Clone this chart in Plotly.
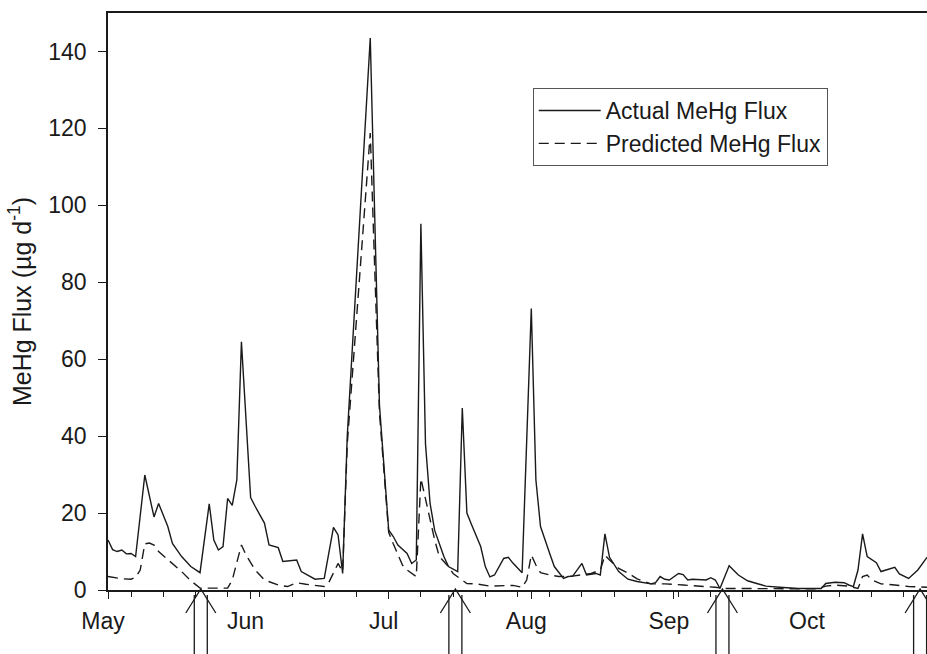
import pandas as pd
import plotly.graph_objects as go

# ---- data ----
start = "2001-05-01"

actual_day = [0, 1, 2, 3, 4, 5, 6, 8, 10, 11, 13, 14, 16, 18, 20, 22, 23, 24, 25, 26,
              27, 28, 29, 31, 32, 34, 35, 37, 38, 41, 42, 45, 47, 49, 50, 51, 52, 57, 59, 61,
              62, 63, 65, 66, 67, 68, 69, 70, 71, 73, 74, 76, 77, 78, 79, 80, 81, 82, 83, 84,
              86, 87, 88, 90, 92, 93, 94, 96, 97, 99, 100, 101, 103, 104, 106, 107, 108, 109, 111, 113,
              115, 118, 119, 120, 121, 122, 124, 125, 126, 127, 129, 130, 131, 132, 133, 135, 137, 139, 141, 143,
              146, 150, 155, 156, 158, 160, 161, 162, 163, 164, 165, 167, 168, 171, 172, 174, 176, 178]
actual_flux = [13.0, 10.5, 10.0, 10.4, 9.4, 9.5, 8.7, 29.9, 19.0, 22.5, 16.5, 12.1, 8.7, 6.1, 4.5, 22.4, 13.0, 10.4, 11.3, 23.8,
               22.0, 28.6, 64.5, 24.0, 21.7, 17.4, 11.7, 11.0, 7.4, 7.8, 4.8, 2.8, 3.0, 16.3, 14.3, 4.3, 40.0, 143.5, 48.0, 15.6,
               13.9, 11.7, 9.5, 6.9, 7.8, 95.2, 38.0, 22.5, 15.5, 8.7, 6.1, 4.8, 47.3, 20.0, 17.0, 13.9, 11.3, 6.1, 3.4, 3.9,
               8.2, 8.5, 7.0, 4.5, 73.2, 28.6, 16.5, 9.5, 6.1, 3.0, 3.5, 3.6, 6.9, 3.9, 4.3, 3.9, 14.6, 8.5, 4.8, 2.8,
               2.2, 1.6, 1.9, 3.5, 2.8, 2.6, 4.3, 4.0, 2.6, 2.8, 2.6, 2.6, 3.2, 2.6, 0.4, 6.3, 3.9, 2.4, 1.7, 1.0,
               0.7, 0.4, 0.4, 1.7, 2.0, 1.9, 1.3, 0.9, 5.2, 14.6, 8.7, 7.1, 4.8, 5.9, 4.2, 3.0, 5.2, 8.5]

pred_day = [0, 3, 5, 6, 7, 8, 9, 10, 11, 12, 13, 16, 18, 20, 26, 27, 29, 30, 32, 34,
            37, 39, 41, 43, 47, 48, 50, 51, 52, 57, 59, 61, 62, 64, 65, 67, 68, 69, 70, 71,
            72, 74, 75, 77, 78, 80, 83, 88, 90, 91, 92, 93, 94, 96, 98, 101, 105, 107, 108, 109,
            111, 113, 115, 118, 121, 125, 129, 132, 134, 154, 156, 158, 161, 163, 164, 165, 166, 168, 171, 174,
            178]
pred_flux = [3.5, 2.9, 2.8, 3.3, 5.2, 12.0, 12.2, 11.7, 10.0, 9.0, 7.8, 4.8, 2.4, 0.5, 0.5, 2.6, 11.7, 9.1, 5.2, 2.6,
             1.3, 0.9, 1.9, 1.5, 0.9, 2.0, 6.9, 4.8, 38.0, 118.8, 46.0, 15.0, 12.0, 6.5, 5.2, 3.5, 29.0, 23.4, 18.2, 13.0,
             8.7, 6.1, 4.3, 2.6, 1.7, 1.6, 1.0, 1.2, 0.7, 2.6, 9.1, 6.5, 4.5, 3.9, 3.5, 3.6, 4.3, 5.2, 9.0, 7.8,
             5.6, 4.4, 2.9, 1.6, 1.6, 1.3, 1.0, 0.7, 0.4, 0.3, 1.0, 1.3, 1.0, 0.4, 3.5, 3.9, 2.6, 1.6, 1.3, 0.9,
             0.7]

arrow_dates = ["2001-05-21 04:00", "2001-07-15 12:00", "2001-09-11 13:00", "2001-10-24 12:00"]

y_ticks = [0, 20, 40, 60, 80, 100, 120, 140]

t0 = pd.Timestamp(start)
actual_dates = [t0 + pd.Timedelta(days=d) for d in actual_day]
pred_dates = [t0 + pd.Timedelta(days=d) for d in pred_day]

INK = "#1a1a1a"
FONT = "Liberation Sans, Arial, sans-serif"

fig = go.Figure()
fig.add_trace(go.Scatter(x=actual_dates, y=actual_flux, mode="lines",
                         name="Actual MeHg Flux",
                         line=dict(color=INK, width=1.4)))
fig.add_trace(go.Scatter(x=pred_dates, y=pred_flux, mode="lines",
                         name="Predicted MeHg Flux",
                         line=dict(color=INK, width=1.4, dash="10px,6px")))

# hollow double-shaft arrows under the time axis
for d in arrow_dates:
    common = dict(type="path", xref="x", yref="paper", xsizemode="pixel",
                  ysizemode="pixel", xanchor=d, yanchor=0,
                  line=dict(color=INK, width=1.3), layer="above")
    fig.add_shape(path="M -15,-23 L 0,1 L 15,-23", **common)
    fig.add_shape(path="M -6.5,-5 L -6.5,-80 M 6.5,-5 L 6.5,-80", **common)

fig.update_layout(
    width=927, height=654,
    margin=dict(l=108, r=0, t=13, b=64),
    paper_bgcolor="white", plot_bgcolor="white",
    font=dict(family=FONT, size=23, color=INK),
    showlegend=True,
    legend=dict(x=0.5186, y=0.870, xanchor="left", yanchor="top",
                bordercolor="#555555", borderwidth=1, bgcolor="white",
                font=dict(size=23), itemwidth=62, tracegroupgap=0),
    xaxis=dict(type="date", range=["2001-05-01", "2001-10-26"],
               tick0="2001-05-01", dtick="M1", tickformat="%b",
               ticks="outside", ticklen=7, tickwidth=1.3, tickcolor=INK,
               ticklabelshift=-5, ticklabelstandoff=3,
               showline=True, linecolor=INK, linewidth=1.5, mirror=True,
               showgrid=False, zeroline=False,
               minor=dict(ticks="outside", ticklen=5, tickwidth=1.2, tickcolor=INK,
                          tick0="2001-05-06", dtick=7 * 24 * 3600 * 1000, showgrid=False)),
    yaxis=dict(range=[0, 150], tickmode="array", tickvals=y_ticks,
               ticks="outside", ticklen=8, tickwidth=1.3, tickcolor=INK,
               ticklabelstandoff=7,
               showline=True, linecolor=INK, linewidth=1.5,
               showgrid=False, zeroline=False,
               title=dict(text="MeHg Flux (µg d<sup>-1</sup>)", font=dict(size=25), standoff=10)),
)

fig.write_html("out.html", config={"displayModeBar": False},
               post_script="document.body.style.margin='0';")
